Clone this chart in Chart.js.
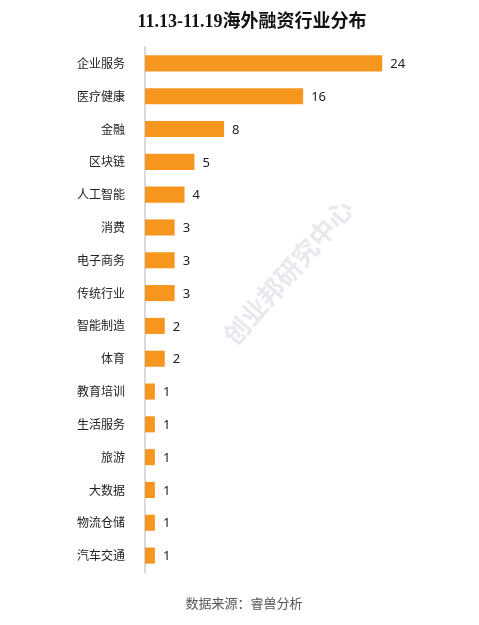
<!DOCTYPE html>
<html lang="zh-CN">
<head>
  <meta charset="UTF-8">
  <title>11.13-11.19海外融资行业分布</title>
  <script src="https://cdn.jsdelivr.net/npm/chart.js"></script>
  <style>
    html, body {
      margin: 0;
      padding: 0;
      background: #fff;
    }
    #box {
      width: 479px;
      height: 625px;
    }
  </style>
</head>
<body>
<div id="box">
  <canvas id="grafico" width="479" height="625"></canvas>
</div>

<script>
  // dados
  const industrias = ['企业服务', '医疗健康', '金融', '区块链', '人工智能', '消费', '电子商务', '传统行业',
    '智能制造', '体育', '教育培训', '生活服务', '旅游', '大数据', '物流仓储', '汽车交通'];
  const quantidades = [24, 16, 8, 5, 4, 3, 3, 3, 2, 2, 1, 1, 1, 1, 1, 1];

  const titulo = '11.13-11.19海外融资行业分布';
  const fonte = '数据来源：睿兽分析';
  const marcaDagua = '创业邦研究中心';

  // titulo, rodape e marca d'agua
  const textosExtras = {
    id: 'textosExtras',
    beforeDatasetsDraw(chart) {
      const ctx = chart.ctx;
      ctx.save();
      ctx.translate(288, 272);
      ctx.rotate(-49 * Math.PI / 180);
      ctx.font = 'bold 26px "Noto Sans CJK SC"';
      ctx.fillStyle = 'rgba(205, 205, 218, 0.45)';
      ctx.textAlign = 'center';
      ctx.textBaseline = 'middle';
      ctx.fillText(marcaDagua, 0, 0);
      ctx.restore();
    },
    afterDraw(chart) {
      const ctx = chart.ctx;
      ctx.save();
      ctx.textAlign = 'center';
      ctx.textBaseline = 'middle';
      ctx.fillStyle = '#111';
      ctx.font = 'bold 18px "Liberation Serif", "Noto Sans CJK SC"';
      ctx.fillText(titulo, 252, 22);
      ctx.fillStyle = '#555';
      ctx.font = '13px "Noto Sans CJK SC"';
      ctx.fillText(fonte, 244, 603);
      ctx.restore();
    }
  };

  // numeros no fim das barras
  const rotulos = {
    id: 'rotulos',
    afterDatasetsDraw(chart) {
      const ctx = chart.ctx;
      const meta = chart.getDatasetMeta(0);
      ctx.save();
      ctx.font = '13px "Noto Sans"';
      ctx.fillStyle = '#222';
      ctx.textBaseline = 'middle';
      meta.data.forEach((bar, i) => {
        ctx.fillText(quantidades[i], bar.x + 8, bar.y + 1);
      });
      ctx.restore();
    }
  };

  const ctx = document.getElementById('grafico').getContext('2d');
  new Chart(ctx, {
    type: 'bar',
    data: {
      labels: industrias,
      datasets: [{
        data: quantidades,
        backgroundColor: '#f7961f',
        categoryPercentage: 0.98,
        barPercentage: 0.5
      }]
    },
    options: {
      indexAxis: 'y',
      responsive: false,
      animation: false,
      layout: {
        padding: { top: 47, bottom: 53, left: 0, right: 77 }
      },
      plugins: {
        legend: { display: false },
        tooltip: { enabled: false }
      },
      scales: {
        x: {
          display: false,
          min: 0,
          max: 26
        },
        y: {
          afterFit(scale) { scale.width = 145; },
          grid: { display: false, drawTicks: false },
          border: { display: true, color: '#d9d9d9', width: 2 },
          ticks: {
            padding: 20,
            color: '#222',
            font: { size: 12, family: '"Noto Sans CJK SC"' }
          }
        }
      }
    },
    plugins: [textosExtras, rotulos]
  });
</script>
</body>
</html>
